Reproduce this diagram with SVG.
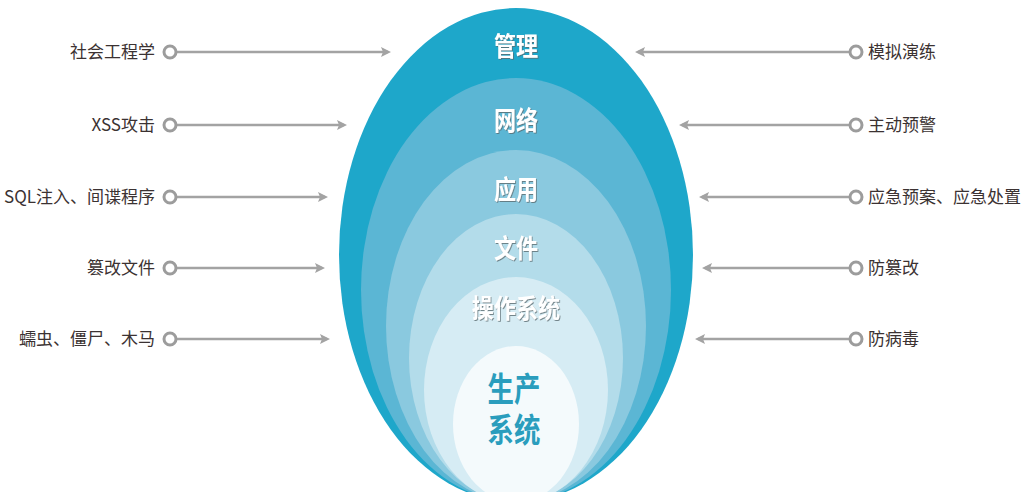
<svg xmlns="http://www.w3.org/2000/svg" width="1025" height="492" viewBox="0 0 1025 492">
<style>
.lbl{font-family:"Noto Sans CJK SC","Noto Sans",sans-serif;font-size:17px;fill:#3b3232;}
.lay{font-family:"Noto Sans CJK SC",sans-serif;font-weight:bold;font-size:26px;fill:#ffffff;text-anchor:middle;filter:url(#sh);}
.core{font-family:"Liberation Sans","Noto Sans CJK SC",sans-serif;font-weight:bold;font-size:33px;fill:#2a9dbd;text-anchor:middle;}
.ln{stroke:#a3a3a3;stroke-width:2.5;fill:none;}
.ring{stroke:#9c9c9c;stroke-width:3;fill:#ffffff;}
</style>
<defs>
<marker id="ah" markerWidth="10" markerHeight="10" refX="7" refY="5" orient="auto" markerUnits="userSpaceOnUse">
<path d="M0,0 L10,5 L0,10 L2,5 Z" fill="#a3a3a3"/>
</marker>
<filter id="sh" x="-20%" y="-20%" width="140%" height="140%">
<feDropShadow dx="1" dy="1" stdDeviation="0.6" flood-color="#5a6a70" flood-opacity="0.8"/>
</filter>
</defs>
<g id="layers">
<ellipse id="l1" cx="516" cy="255" rx="177" ry="247" fill="#1ea7ca"/>
<ellipse id="l2" cx="516" cy="290" rx="155" ry="212" fill="#5bb6d4"/>
<ellipse id="l3" cx="516" cy="326" rx="130" ry="176" fill="#8ac9df"/>
<ellipse id="l4" cx="516" cy="358" rx="107" ry="144" fill="#b3dcea"/>
<ellipse id="l5" cx="516" cy="390" rx="92" ry="113" fill="#d6ecf4"/>
<ellipse id="l6" cx="516" cy="424" rx="63" ry="78" fill="#f4fafc"/>
</g>
<g id="layer-labels">
<text class="lay" transform="translate(516,56) scale(0.85,1)">管理</text>
<text class="lay" transform="translate(516,130) scale(0.85,1)">网络</text>
<text class="lay" transform="translate(516,199) scale(0.85,1)">应用</text>
<text class="lay" transform="translate(516,258) scale(0.85,1)">文件</text>
<text class="lay" transform="translate(516,318) scale(0.85,1)">操作系统</text>
<text class="core" transform="translate(514,401) scale(0.8,1)"><tspan x="0" y="0">生产</tspan><tspan x="0" y="41">系统</tspan></text>
</g>
<g id="connectors">
<line class="ln" x1="176" y1="52" x2="388" y2="52" marker-end="url(#ah)"/>
<line class="ln" x1="176" y1="125" x2="344" y2="125" marker-end="url(#ah)"/>
<line class="ln" x1="176" y1="197" x2="325" y2="197" marker-end="url(#ah)"/>
<line class="ln" x1="176" y1="268" x2="322" y2="268" marker-end="url(#ah)"/>
<line class="ln" x1="176" y1="339" x2="327" y2="339" marker-end="url(#ah)"/>
<line class="ln" x1="850" y1="52" x2="638" y2="52" marker-end="url(#ah)"/>
<line class="ln" x1="850" y1="125" x2="682" y2="125" marker-end="url(#ah)"/>
<line class="ln" x1="850" y1="197" x2="702" y2="197" marker-end="url(#ah)"/>
<line class="ln" x1="850" y1="268" x2="705" y2="268" marker-end="url(#ah)"/>
<line class="ln" x1="850" y1="339" x2="698" y2="339" marker-end="url(#ah)"/>
</g>
<g id="left-1"><circle class="ring" cx="170" cy="52" r="6"/><text class="lbl" x="155" y="58" text-anchor="end">社会工程学</text></g>
<g id="left-2"><circle class="ring" cx="170" cy="125" r="6"/><text class="lbl" x="155" y="131" text-anchor="end">XSS攻击</text></g>
<g id="left-3"><circle class="ring" cx="170" cy="197" r="6"/><text class="lbl" x="155" y="203" text-anchor="end">SQL注入、间谍程序</text></g>
<g id="left-4"><circle class="ring" cx="170" cy="268" r="6"/><text class="lbl" x="155" y="274" text-anchor="end">篡改文件</text></g>
<g id="left-5"><circle class="ring" cx="170" cy="339" r="6"/><text class="lbl" x="155" y="345" text-anchor="end">蠕虫、僵尸、木马</text></g>
<g id="right-1"><circle class="ring" cx="856" cy="52" r="6"/><text class="lbl" x="868" y="58">模拟演练</text></g>
<g id="right-2"><circle class="ring" cx="856" cy="125" r="6"/><text class="lbl" x="868" y="131">主动预警</text></g>
<g id="right-3"><circle class="ring" cx="856" cy="197" r="6"/><text class="lbl" x="868" y="203">应急预案、应急处置</text></g>
<g id="right-4"><circle class="ring" cx="856" cy="268" r="6"/><text class="lbl" x="868" y="274">防篡改</text></g>
<g id="right-5"><circle class="ring" cx="856" cy="339" r="6"/><text class="lbl" x="868" y="345">防病毒</text></g>
</svg>
